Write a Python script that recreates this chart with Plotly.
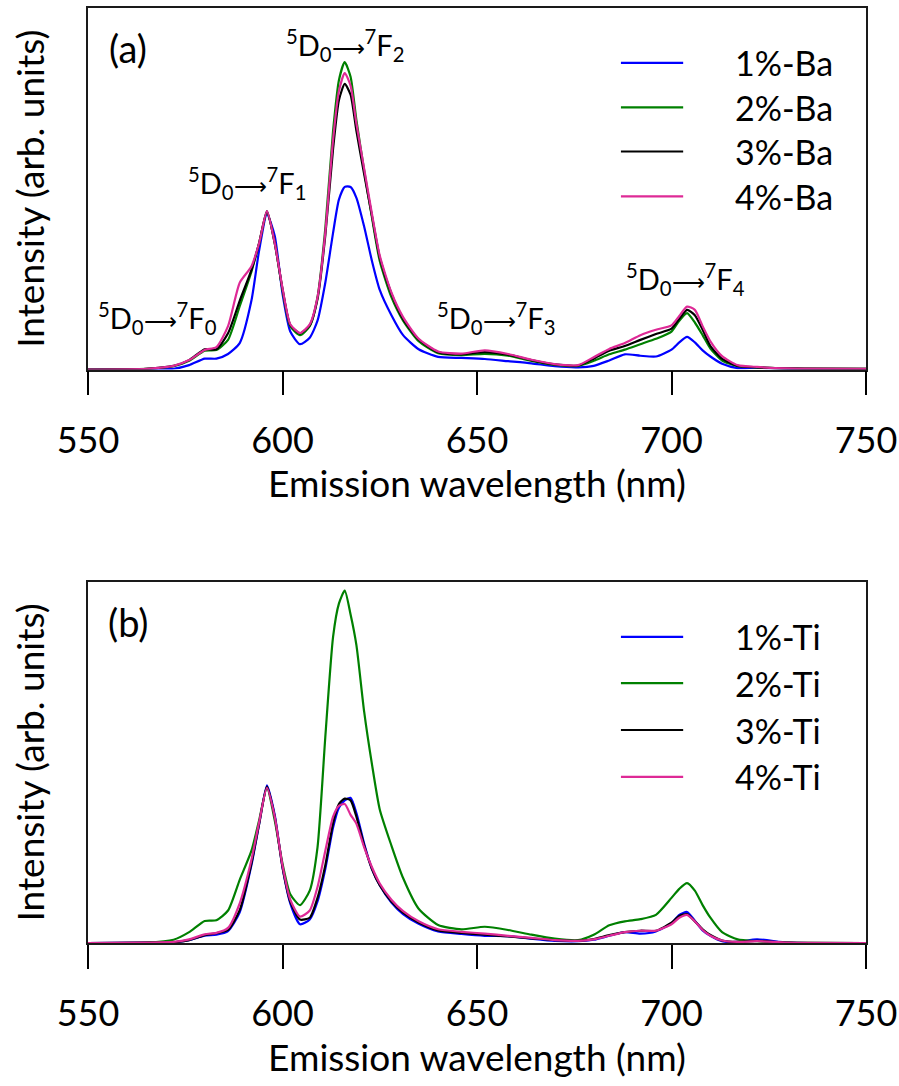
import plotly.graph_objects as go

# Emission wavelength grid (nm)
wavelength = [550, 565, 572, 576, 580, 583, 586, 589, 592, 594, 596, 598, 600, 602, 604.5,
              607, 609, 611, 613, 614.5, 616, 617.5, 619, 621, 623, 625, 628, 631, 635, 640,
              646, 652, 658, 664, 670, 676, 680, 684, 688, 692, 696, 700, 702, 704, 706, 708,
              710, 713, 717, 722, 730, 750]

# Panel (a): Ba-doped samples (arb. units)
ba_1 = [0, 0.1, 0.2, 1.2, 3.0, 3.0, 4.3, 7.3, 19, 33, 43, 37, 21, 10.5, 7.0,
        8.8, 13.5, 24, 37.8, 47, 50.5, 50.5, 47.5, 39.5, 30, 22, 15, 9.5, 5.6, 3.5,
        3.2, 2.9, 2.3, 1.7, 0.9, 0.6, 1.0, 2.5, 4.2, 3.8, 3.6, 5.5, 7.5, 9.0, 7.5, 5.3,
        3.6, 1.6, 0.4, 0.5, 0.2, 0.1]
ba_2 = [0, 0.2, 0.9, 2.4, 5.2, 5.4, 8.2, 17.5, 27, 35, 43.5, 35, 22, 12, 9.5,
        12, 20, 39, 66, 80, 85, 81, 69, 55, 42, 30, 20, 13.5, 7.8, 4.5,
        4.0, 4.3, 3.8, 2.4, 1.3, 1.0, 2.4, 4.2, 5.5, 7.0, 8.5, 10.5, 13.5, 15.6, 13, 9.5,
        5.8, 2.5, 0.9, 0.6, 0.3, 0.2]
ba_3 = [0, 0.2, 1.0, 2.6, 5.6, 5.6, 10, 19, 27.5, 35, 43.8, 35, 22.3, 12.3, 10,
        12.2, 19.5, 37, 61, 74.5, 79, 76, 66, 54, 42.5, 31, 21, 14, 8.3, 4.8,
        4.2, 4.8, 4.1, 2.6, 1.4, 1.1, 3.0, 5.2, 6.5, 8.2, 9.8, 11.3, 14, 16.5, 15, 11,
        6.5, 3.0, 1.0, 0.6, 0.3, 0.2]
ba_4 = [0, 0.2, 1.0, 2.6, 5.4, 6.2, 12, 24, 28.5, 35, 43.8, 35, 22.5, 12.5, 10.1,
        12.5, 20, 37.8, 63.5, 77, 82, 78.5, 68, 55.5, 43, 31.5, 21.3, 14.5, 8.5, 5.0,
        4.4, 5.3, 4.3, 2.7, 1.5, 1.2, 3.4, 5.7, 7.3, 9.5, 11, 12.2, 14.8, 17.4, 16.5, 12,
        7.8, 3.7, 1.2, 0.7, 0.3, 0.2]

# Panel (b): Ti-doped samples (arb. units)
ti_1 = [0, 0.1, 0.2, 0.8, 2.0, 2.3, 3.3, 8.5, 21.5, 33, 43.7, 35.5, 21, 11, 5.2,
        6.5, 11.5, 20.5, 32, 37.5, 39.5, 40.2, 36, 27.5, 20.5, 16, 11.2, 8.0, 5.3, 3.2,
        2.5, 2.0, 1.9, 1.2, 0.6, 0.5, 0.9, 2.0, 3.0, 2.6, 3.2, 5.5, 7.8, 8.6, 6.2, 3.5,
        2.0, 0.5, 0.3, 1.0, 0.1, 0]
ti_2 = [0, 0.1, 0.9, 3.0, 6.1, 6.3, 9.0, 17.5, 25.5, 34, 43, 34, 22, 13.5, 10.5,
        14.5, 26.5, 57, 84.8, 94, 97.6, 91, 82.5, 64, 49.5, 37, 27, 18, 9.5, 5.0,
        3.8, 4.5, 3.6, 2.3, 1.2, 0.8, 2.3, 4.9, 6.0, 6.6, 7.8, 12.5, 15, 16.6, 14.5, 10.5,
        7.0, 3.0, 1.0, 0.5, 0.1, 0]
ti_3 = [0, 0.1, 0.2, 0.8, 2.2, 2.7, 3.6, 9.1, 22, 33, 43.3, 35, 21, 11.5, 6.5,
        7.0, 12.5, 21.5, 33.2, 38.5, 40, 39.5, 35, 27, 20.5, 16, 11.5, 8.4, 5.7, 3.5,
        2.8, 2.3, 1.8, 1.3, 0.8, 0.6, 1.1, 2.2, 3.0, 3.4, 3.4, 5.6, 7.5, 8.0, 6.0, 3.8,
        2.2, 0.7, 0.3, 0.6, 0.1, 0]
ti_4 = [0, 0.1, 0.3, 1.0, 2.4, 2.8, 4.2, 11, 23, 33.5, 43, 35, 21.5, 12, 7.3,
        9.0, 15.5, 25.5, 35, 38, 38.5, 35.5, 33, 26.5, 21, 16.5, 12, 8.8, 6.0, 3.8,
        3.1, 2.6, 2.0, 1.4, 0.8, 0.6, 1.0, 2.0, 3.0, 3.4, 3.4, 5.2, 7.0, 7.8, 6.0, 3.6,
        2.0, 0.7, 0.3, 0.5, 0.1, 0]

ba_labels = ["1%-Ba", "2%-Ba", "3%-Ba", "4%-Ba"]
ti_labels = ["1%-Ti", "2%-Ti", "3%-Ti", "4%-Ti"]
colors = ["#0000FF", "#008000", "#000000", "#DE2A96"]

x_ticks = [550, 600, 650, 700, 750]
x_minor_ticks = [575, 625, 675, 725]

ARROW = '<span style="font-size:23px">⟶</span>'
trans_text = [f"<sup>5</sup>D<sub>0</sub>{ARROW}<sup>7</sup>F<sub>{k}</sub>" for k in range(5)]
trans_x = [567.9, 591.0, 616.3, 655.0, 703.7]
trans_y = [14.2, 51.6, 89.8, 14.2, 25.0]

FONT = "Lato"
W, H = 899, 1086
x0, x1 = 88 / W, 866 / W
dom_a = [1 - 369.5 / H, 1 - 8 / H]
dom_b = [1 - 943 / H, 1 - 582 / H]

fig = go.Figure()
for ys, name, c in zip([ba_1, ba_2, ba_3, ba_4], ba_labels, colors):
    fig.add_trace(go.Scatter(x=wavelength, y=ys, name=name, mode="lines",
                             line=dict(color=c, width=2.2, shape="spline", smoothing=0.6),
                             xaxis="x", yaxis="y", showlegend=False))
for ys, name, c in zip([ti_1, ti_2, ti_3, ti_4], ti_labels, colors):
    fig.add_trace(go.Scatter(x=wavelength, y=ys, name=name, mode="lines",
                             line=dict(color=c, width=2.2, shape="spline", smoothing=0.6),
                             xaxis="x2", yaxis="y2", showlegend=False))

axis_common = dict(showline=True, linecolor="#1a1a1a", linewidth=1.6, mirror=True,
                   showgrid=False, zeroline=False, automargin=False)
xaxis_common = dict(axis_common, range=[550, 750], tickmode="array", tickvals=x_ticks,
                    ticks="outside", ticklen=24, tickwidth=1.8, tickcolor="black",
                    tickfont=dict(family=FONT, size=36, color="black"),
                    ticklabelstandoff=14,
                    title=dict(text="Emission wavelength (nm)",
                               font=dict(family=FONT, size=37, color="black"), standoff=12))
minor_axis = dict(range=[550, 750], tickmode="array", tickvals=x_minor_ticks,
                  ticks="outside", ticklen=12, tickwidth=1.8, tickcolor="black",
                  showticklabels=False, showline=False, showgrid=False, zeroline=False,
                  automargin=False)
yaxis_common = dict(axis_common, range=[0, 100], showticklabels=False, ticks="",
                    title=dict(text="Intensity (arb. units)",
                               font=dict(family=FONT, size=37, color="black"), standoff=30))

fig.update_layout(
    width=W, height=H, margin=dict(l=0, r=0, t=0, b=0),
    paper_bgcolor="white", plot_bgcolor="white",
    xaxis=dict(xaxis_common, domain=[x0, x1], anchor="y"),
    yaxis=dict(yaxis_common, domain=dom_a, anchor="x"),
    xaxis2=dict(xaxis_common, domain=[x0, x1], anchor="y2"),
    yaxis2=dict(yaxis_common, domain=dom_b, anchor="x2"),
    xaxis3=dict(minor_axis, overlaying="x", anchor="y", side="bottom"),
    xaxis4=dict(minor_axis, overlaying="x2", anchor="y2", side="bottom"),
)

annotations = []
for t, xv, yv in zip(trans_text, trans_x, trans_y):
    annotations.append(dict(text=t, x=xv, y=yv, xref="x", yref="y", showarrow=False,
                            xanchor="center", yanchor="middle",
                            font=dict(family=FONT, size=29, color="black")))
annotations.append(dict(text="(a)", x=560.3, y=88.9, xref="x", yref="y", showarrow=False,
                        xanchor="center", yanchor="middle",
                        font=dict(family=FONT, size=38, color="black")))
annotations.append(dict(text="(b)", x=560.3, y=88.9, xref="x2", yref="y2", showarrow=False,
                        xanchor="center", yanchor="middle",
                        font=dict(family=FONT, size=38, color="black")))

shapes = []
rows_a = [0.848, 0.725, 0.603, 0.479]
rows_b = [0.848, 0.720, 0.590, 0.460]
for (xr, yr, rows, labels) in [("x domain", "y domain", rows_a, ba_labels),
                               ("x2 domain", "y2 domain", rows_b, ti_labels)]:
    for r, lab, c in zip(rows, labels, colors):
        shapes.append(dict(type="line", xref=xr, yref=yr, x0=0.685, x1=0.765, y0=r, y1=r,
                           line=dict(color=c, width=2.2)))
        annotations.append(dict(text=lab, x=0.829, y=r, xref=xr, yref=yr, showarrow=False,
                                xanchor="left", yanchor="middle",
                                font=dict(family=FONT, size=34, color="black")))

fig.update_layout(annotations=annotations, shapes=shapes)
fig.write_html("out.html")
